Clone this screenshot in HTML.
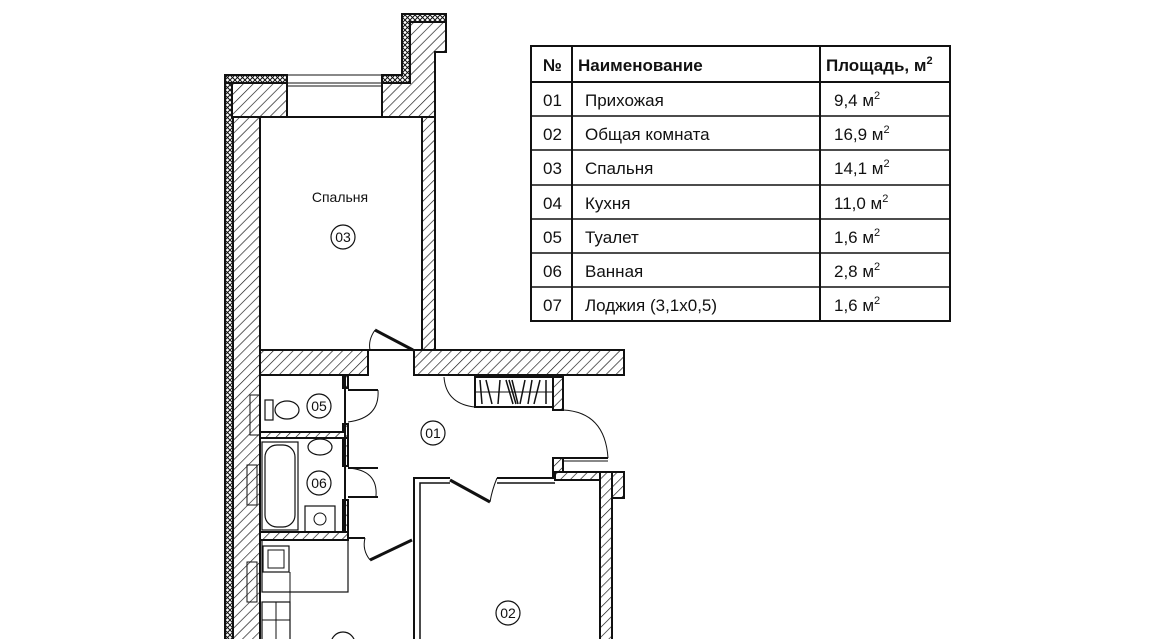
<!DOCTYPE html>
<html><head><meta charset="utf-8"><style>
html,body{margin:0;padding:0;background:#fff;width:1150px;height:639px;overflow:hidden}
svg text{font-family:"Liberation Sans",Arial,sans-serif;fill:#111}
</style></head><body>
<svg width="1150" height="639" viewBox="0 0 1150 639" xmlns="http://www.w3.org/2000/svg">
<defs>
<pattern id="h" width="7" height="7" patternUnits="userSpaceOnUse" patternTransform="rotate(45)">
<rect width="7" height="7" fill="#fff"/><line x1="0" y1="0" x2="0" y2="7" stroke="#111" stroke-width="1.3"/>
</pattern>
<pattern id="x" width="5" height="5" patternUnits="userSpaceOnUse">
<rect width="5" height="5" fill="#fff"/><path d="M0 0L5 5M5 0L0 5" stroke="#111" stroke-width="1"/>
</pattern>
</defs>
<g stroke="#111" stroke-width="2">
<rect x="232" y="75" width="28" height="570" fill="url(#h)"/>
<rect x="225" y="75" width="8" height="570" fill="url(#x)"/>
<rect x="232" y="83" width="55" height="34" fill="url(#h)"/>
<rect x="225" y="75" width="62" height="8" fill="url(#x)"/>
<path d="M382 75 H402 V14 H446 V52 H435 V117 H382 Z" fill="url(#h)"/>
<path d="M382 75 H402 V14 H446 V22 H410 V83 H382 Z" fill="url(#x)"/>
<rect x="422" y="117" width="13" height="233" fill="url(#h)"/>
<rect x="260" y="350" width="108" height="25" fill="url(#h)"/>
<path d="M414 350 H624 V375 H414 Z" fill="url(#h)"/>
<rect x="343" y="375" width="5" height="13" fill="url(#h)"/>
<rect x="343" y="424" width="5" height="14" fill="url(#h)"/>
<rect x="343" y="438" width="5" height="28" fill="url(#h)"/>
<rect x="343" y="500" width="5" height="35" fill="url(#h)"/>
<rect x="260" y="432" width="85" height="6" fill="url(#h)"/>
<rect x="260" y="532" width="88" height="8" fill="url(#h)"/>
<rect x="553" y="377" width="10" height="33" fill="url(#h)"/>
<rect x="553" y="458" width="10" height="20" fill="url(#h)"/>
<rect x="555" y="472" width="47" height="8" fill="url(#h)"/>
<rect x="600" y="472" width="12" height="170" fill="url(#h)"/>
<rect x="612" y="472" width="12" height="26" fill="url(#h)"/>
</g>
<g stroke="#111" fill="none">
<line x1="287" y1="83" x2="382" y2="83" stroke-width="1"/>
<line x1="287" y1="86" x2="382" y2="86" stroke-width="1"/>
<line x1="287" y1="117" x2="382" y2="117" stroke-width="1"/>
<line x1="287" y1="75" x2="382" y2="75" stroke-width="1"/>
<rect x="260" y="117" width="162" height="233" stroke-width="2"/>
<line x1="375" y1="330" x2="413" y2="350" stroke-width="3"/>
<path d="M375 330 Q368 340 370 350" stroke-width="1"/>
<line x1="348" y1="390" x2="378" y2="390" stroke-width="2"/>
<path d="M378 390 Q380 418 348 422" stroke-width="1"/>
<line x1="348" y1="468" x2="378" y2="468" stroke-width="2"/>
<path d="M348 468 Q378 470 376 496" stroke-width="1"/>
<line x1="348" y1="497" x2="378" y2="497" stroke-width="2"/>
<line x1="348" y1="538" x2="365" y2="538" stroke-width="2"/>
<line x1="370" y1="560" x2="412" y2="540" stroke-width="3"/>
<path d="M365 538 Q362 550 370 560" stroke-width="1"/>
<rect x="475" y="377" width="78" height="30" stroke-width="2"/>
<line x1="475" y1="392" x2="553" y2="392" stroke-width="1"/>
<path d="M480 380L482 404M486 380L492 404M500 380L498 404M506 380L513 404M509 380L516 404M512 380L518 404M525 380L520 404M532 380L528 404M540 380L534 404M546 380L546 404" stroke-width="1.5"/>
<path d="M444 377 Q446 404 475 407" stroke-width="1"/>
<path d="M563 410 Q605 412 608 458" stroke-width="1"/>
<line x1="563" y1="458" x2="608" y2="458" stroke-width="2"/>
<line x1="563" y1="461" x2="608" y2="461" stroke-width="1"/>
<path d="M414 640 V478 H450 M497 478 H555" stroke-width="2"/>
<path d="M420 640 V483 H450 M497 483 H555" stroke-width="1.5"/>
<line x1="450" y1="480" x2="490" y2="502" stroke-width="3"/>
<path d="M497 478 Q492 490 490 502" stroke-width="1"/>
<rect x="260" y="375" width="85" height="57" stroke-width="2"/>
<rect x="265" y="400" width="8" height="20" stroke-width="1.2"/>
<ellipse cx="287" cy="410" rx="12" ry="9" stroke-width="1.2"/>
<rect x="250" y="395" width="10" height="40" stroke-width="1"/>
<rect x="260" y="438" width="85" height="94" stroke-width="2"/>
<rect x="262" y="442" width="36" height="88" stroke-width="1.2"/>
<rect x="265" y="445" width="30" height="82" rx="12" stroke-width="1.2"/>
<ellipse cx="320" cy="447" rx="12" ry="8" stroke-width="1.2"/>
<rect x="305" y="506" width="30" height="26" stroke-width="1.2"/>
<circle cx="320" cy="519" r="6" stroke-width="1"/>
<rect x="247" y="465" width="10" height="40" stroke-width="1"/>
<rect x="262" y="540" width="86" height="52" stroke-width="1.2"/>
<rect x="263" y="546" width="26" height="26" stroke-width="1.2"/>
<rect x="268" y="550" width="16" height="18" stroke-width="1"/>
<line x1="290" y1="572" x2="290" y2="640" stroke-width="1"/>
<rect x="262" y="602" width="28" height="40" stroke-width="1.2"/>
<line x1="276" y1="602" x2="276" y2="640" stroke-width="1"/>
<line x1="262" y1="620" x2="290" y2="620" stroke-width="1"/>
<rect x="247" y="562" width="10" height="40" stroke-width="1"/>
</g>
<g fill="none" stroke="#111" stroke-width="1.2">
<circle cx="343" cy="237" r="12"/><circle cx="319" cy="406" r="12"/>
<circle cx="433" cy="433" r="12"/><circle cx="319" cy="483" r="12"/>
<circle cx="508" cy="613" r="12"/><circle cx="343" cy="644" r="12"/>
</g>
<g font-size="14" text-anchor="middle">
<text x="340" y="202">Спальня</text>
<text x="343" y="242">03</text><text x="319" y="411">05</text>
<text x="433" y="438">01</text><text x="319" y="488">06</text>
<text x="508" y="618">02</text>
</g>
<g stroke="#111" stroke-width="2" fill="none">
<rect x="531" y="46" width="419" height="275"/>
<line x1="572" y1="46" x2="572" y2="321"/>
<line x1="820" y1="46" x2="820" y2="321"/>
<line x1="531" y1="82" x2="950" y2="82"/>
<line x1="531" y1="116" x2="950" y2="116" stroke-width="1.5"/>
<line x1="531" y1="150" x2="950" y2="150" stroke-width="1.5"/>
<line x1="531" y1="185" x2="950" y2="185" stroke-width="1.5"/>
<line x1="531" y1="219" x2="950" y2="219" stroke-width="1.5"/>
<line x1="531" y1="253" x2="950" y2="253" stroke-width="1.5"/>
<line x1="531" y1="287" x2="950" y2="287" stroke-width="1.5"/>
</g>
<g font-size="17">
<text x="543" y="71" font-weight="bold">№</text>
<text x="578" y="71" font-weight="bold">Наименование</text>
<text x="826" y="71" font-weight="bold">Площадь, м<tspan font-size="11" dy="-7">2</tspan></text>
<text x="543" y="106">01</text><text x="585" y="106">Прихожая</text><text x="834" y="106">9,4 м<tspan font-size="11" dy="-7">2</tspan></text>
<text x="543" y="140">02</text><text x="585" y="140">Общая комната</text><text x="834" y="140">16,9 м<tspan font-size="11" dy="-7">2</tspan></text>
<text x="543" y="174">03</text><text x="585" y="174">Спальня</text><text x="834" y="174">14,1 м<tspan font-size="11" dy="-7">2</tspan></text>
<text x="543" y="209">04</text><text x="585" y="209">Кухня</text><text x="834" y="209">11,0 м<tspan font-size="11" dy="-7">2</tspan></text>
<text x="543" y="243">05</text><text x="585" y="243">Туалет</text><text x="834" y="243">1,6 м<tspan font-size="11" dy="-7">2</tspan></text>
<text x="543" y="277">06</text><text x="585" y="277">Ванная</text><text x="834" y="277">2,8 м<tspan font-size="11" dy="-7">2</tspan></text>
<text x="543" y="311">07</text><text x="585" y="311">Лоджия (3,1x0,5)</text><text x="834" y="311">1,6 м<tspan font-size="11" dy="-7">2</tspan></text>
</g>
</svg>
</body></html>
